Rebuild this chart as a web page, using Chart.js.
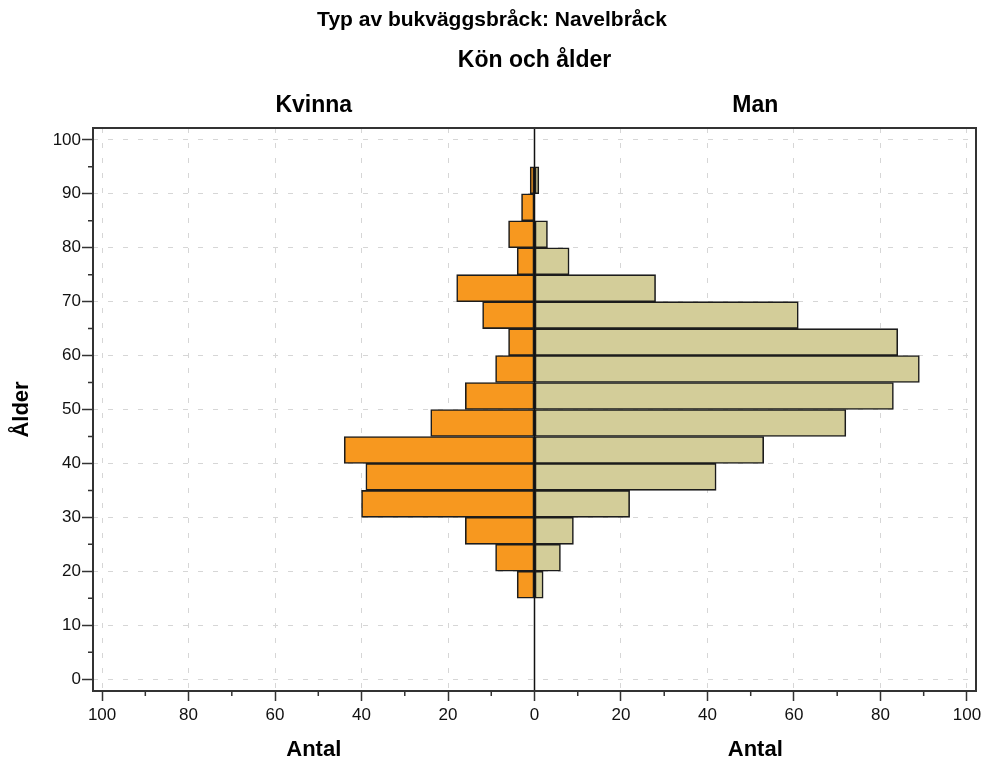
<!DOCTYPE html>
<html lang="sv">
<head>
<meta charset="utf-8">
<title>Typ av bukväggsbråck: Navelbråck</title>
<script src="https://cdn.jsdelivr.net/npm/chart.js@4.4.1/dist/chart.umd.min.js"></script>
<style>
  html, body { margin: 0; padding: 0; background: #fff; }
  canvas { display: block; }
</style>
</head>
<body>
<canvas id="chart" width="984" height="764"></canvas>
<script>
// lower edge of each 5-year age bin
const ageBins = [15, 20, 25, 30, 35, 40, 45, 50, 55, 60, 65, 70, 75, 80, 85, 90]
const binWidth = 5
// counts per bin (Antal)
const kvinna = [4, 9, 16, 40, 39, 44, 24, 16, 9, 6, 12, 18, 4, 6, 3, 1]
const man = [2, 6, 9, 22, 42, 53, 72, 83, 89, 84, 61, 28, 8, 3, 0, 1]

// axis ticks
const xTicks = [-100, -80, -60, -40, -20, 0, 20, 40, 60, 80, 100]
const xMinorTicks = [-90, -70, -50, -30, -10, 10, 30, 50, 70, 90]
const yTicks = [0, 10, 20, 30, 40, 50, 60, 70, 80, 90, 100]
const yMinorTicks = [5, 15, 25, 35, 45, 55, 65, 75, 85, 95]

const FONT = "'Liberation Sans', Arial, sans-serif"
const toTicks = values => values.map(v => ({value: v}))

// frame, zero line, minor ticks and the panel texts
const decorations = {
  id: 'decorations',
  afterDatasetsDraw(chart) {
    const {ctx, chartArea: a, scales: {x, y}} = chart
    const x0 = x.getPixelForValue(0)
    ctx.save()
    ctx.strokeStyle = '#111'
    ctx.lineWidth = 1.5
    ctx.beginPath()
    ctx.moveTo(x0, a.top)
    ctx.lineTo(x0, a.bottom)
    ctx.stroke()

    ctx.strokeStyle = '#333'
    ctx.lineWidth = 2
    ctx.strokeRect(a.left, a.top, a.right - a.left, a.bottom - a.top)

    ctx.lineWidth = 1.5
    ctx.beginPath()
    xMinorTicks.forEach(v => {
      const px = x.getPixelForValue(v)
      ctx.moveTo(px, a.bottom)
      ctx.lineTo(px, a.bottom + 5)
    })
    yMinorTicks.forEach(v => {
      const py = y.getPixelForValue(v)
      ctx.moveTo(a.left, py)
      ctx.lineTo(a.left - 5, py)
    })
    ctx.stroke()
    ctx.restore()
  },
  afterDraw(chart) {
    const {ctx, chartArea: a, scales: {x}} = chart
    const x0 = x.getPixelForValue(0)
    const leftMid = (a.left + x0) / 2
    const rightMid = (x0 + a.right) / 2
    ctx.save()
    ctx.fillStyle = '#000'
    ctx.textAlign = 'center'
    ctx.textBaseline = 'middle'
    ctx.font = `bold 21px ${FONT}`
    ctx.fillText('Typ av bukväggsbråck: Navelbråck', chart.width / 2, 20)
    ctx.font = `bold 23px ${FONT}`
    ctx.fillText('Kön och ålder', (a.left + a.right) / 2, 61)
    ctx.fillText('Kvinna', leftMid, 106)
    ctx.fillText('Man', rightMid, 106)
    ctx.font = `bold 22px ${FONT}`
    ctx.fillText('Antal', leftMid, 750)
    ctx.fillText('Antal', rightMid, 750)
    ctx.translate(22, (a.top + a.bottom) / 2)
    ctx.rotate(-Math.PI / 2)
    ctx.fillText('Ålder', 0, 0)
    ctx.restore()
  }
}

const barStyle = {
  borderColor: '#1c1c1c',
  borderWidth: 1.6,
  borderSkipped: false,
  barPercentage: 1,
  categoryPercentage: 1
}

new Chart(document.getElementById('chart'), {
  type: 'bar',
  data: {
    datasets: [
      {
        label: 'Kvinna',
        data: ageBins.map((b, i) => ({x: -kvinna[i], y: b + binWidth / 2})),
        backgroundColor: '#f7981f',
        ...barStyle
      },
      {
        label: 'Man',
        data: ageBins.map((b, i) => ({x: man[i], y: b + binWidth / 2})),
        backgroundColor: '#d3cd99',
        ...barStyle
      }
    ]
  },
  options: {
    indexAxis: 'y',
    responsive: false,
    animation: false,
    layout: {padding: {top: 128, right: 8, left: 0, bottom: 0}},
    plugins: {
      legend: {display: false},
      tooltip: {enabled: false}
    },
    scales: {
      x: {
        type: 'linear',
        stacked: true,
        min: -102.1,
        max: 102.1,
        afterBuildTicks: scale => { scale.ticks = toTicks(xTicks) },
        afterFit: scale => {
          scale.height = 73
          scale.paddingLeft = 0
          scale.paddingRight = 0
        },
        ticks: {
          callback: v => Math.abs(v),
          color: '#111',
          padding: 4,
          maxRotation: 0,
          font: {family: FONT, size: 17}
        },
        grid: {
          color: ctx => (ctx.tick && ctx.tick.value === 0) ? 'rgba(0,0,0,0)' : '#d6d6d6',
          lineWidth: 1,
          tickColor: '#333',
          tickLength: 10,
          tickWidth: 1.5
        },
        border: {display: false, dash: [5, 10]}
      },
      y: {
        type: 'linear',
        stacked: true,
        offset: false,
        min: -2.2,
        max: 102.2,
        afterBuildTicks: scale => { scale.ticks = toTicks(yTicks) },
        afterFit: scale => {
          scale.width = 93
          scale.paddingTop = 0
          scale.paddingBottom = 0
        },
        ticks: {
          color: '#111',
          padding: 1,
          font: {family: FONT, size: 17}
        },
        grid: {
          offset: false,
          color: '#d6d6d6',
          lineWidth: 1,
          tickColor: '#333',
          tickLength: 11,
          tickWidth: 1.5
        },
        border: {display: false, dash: [5, 10]}
      }
    }
  },
  plugins: [decorations]
})
</script>
</body>
</html>
